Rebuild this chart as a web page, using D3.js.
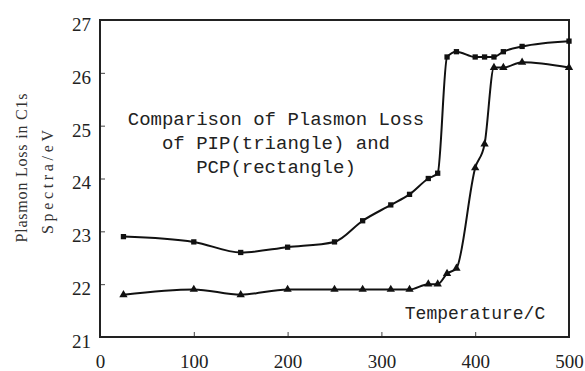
<!DOCTYPE html>
<html>
<head>
<meta charset="utf-8">
<script src="https://cdn.jsdelivr.net/npm/d3@7"></script>
<style>
  html, body { margin: 0; padding: 0; background: #fff; }
  svg { display: block; }
</style>
</head>
<body>
<svg id="chart" width="585" height="371"></svg>
<script>
// ---- data ----
const temperatures = [25, 100, 150, 200, 250, 280, 310, 330, 350, 360, 370, 380, 400, 410, 420, 430, 450, 500];
const pcpValues = [22.9, 22.8, 22.6, 22.7, 22.8, 23.2, 23.5, 23.7, 24.0, 24.1, 26.3, 26.4, 26.3, 26.3, 26.3, 26.4, 26.5, 26.6];
const pipValues = [21.8, 21.9, 21.8, 21.9, 21.9, 21.9, 21.9, 21.9, 22.0, 22.0, 22.2, 22.3, 24.2, 24.65, 26.1, 26.1, 26.2, 26.1];
const xTicks = [0, 100, 200, 300, 400, 500];
const yTicks = [21, 22, 23, 24, 25, 26, 27];
const titleLines = ["Comparison of Plasmon Loss", "of PIP(triangle) and", "PCP(rectangle)"];
const yLabelLines = ["Plasmon Loss in C1s", "Spectra/eV"];
const xLabel = "Temperature/C";

// ---- layout ----
const svg = d3.select("#chart");
const mLeft = 100, mRight = 569, mTop = 20, mBottom = 337;
const x = d3.scaleLinear().domain([0, 500]).range([mLeft, mRight]);
const y = d3.scaleLinear().domain([21, 27]).range([mBottom, mTop]);
const ink = "#111";
const serif = "'Liberation Serif', 'Times New Roman', serif";
const mono = "'Liberation Mono', 'Courier New', monospace";

// axes (ticks inward)
const xAxis = svg.append("g").attr("transform", `translate(0,${mBottom})`)
  .call(d3.axisBottom(x).tickValues(xTicks).tickSize(-5).tickPadding(14).tickFormat(d3.format("d")));
const yAxis = svg.append("g").attr("transform", `translate(${mLeft},0)`)
  .call(d3.axisLeft(y).tickValues(yTicks).tickSize(-5).tickPadding(9).tickFormat(d3.format("d")));
[xAxis, yAxis].forEach(g => {
  g.select(".domain").remove();
  g.selectAll(".tick line").attr("stroke", "#444").attr("stroke-width", 1);
  g.selectAll(".tick text").attr("fill", "#222").style("font-family", serif).style("font-size", "19px");
});
yAxis.selectAll(".tick text").attr("dy", "0.55em");
xAxis.selectAll(".tick text").attr("dy", "0.9em");

// frame
svg.append("rect").attr("x", mLeft).attr("y", mTop)
  .attr("width", mRight - mLeft).attr("height", mBottom - mTop)
  .attr("fill", "none").attr("stroke", "#222").attr("stroke-width", 2);

// lines
const pcp = temperatures.map((t, i) => [t, pcpValues[i]]);
const pip = temperatures.map((t, i) => [t, pipValues[i]]);
const line = d3.line().x(d => x(d[0])).y(d => y(d[1])).curve(d3.curveMonotoneX);
[pcp, pip].forEach(s => {
  svg.append("path").datum(s).attr("d", line)
    .attr("fill", "none").attr("stroke", ink).attr("stroke-width", 2);
});

// markers
svg.append("g").selectAll("path").data(pcp).join("path")
  .attr("d", d3.symbol().type(d3.symbolSquare).size(28))
  .attr("transform", d => `translate(${x(d[0])},${y(d[1])})`)
  .attr("fill", ink);
svg.append("g").selectAll("path").data(pip).join("path")
  .attr("d", d3.symbol().type(d3.symbolTriangle).size(30))
  .attr("transform", d => `translate(${x(d[0])},${y(d[1])})`)
  .attr("fill", ink);

// in-plot title
svg.append("g").selectAll("text").data(titleLines).join("text")
  .attr("x", 276).attr("y", (d, i) => 125 + i * 24)
  .attr("text-anchor", "middle")
  .style("font-family", mono).style("font-size", "19px").attr("fill", "#222")
  .text(d => d);

// x label
svg.append("text").attr("x", 475).attr("y", 319).attr("text-anchor", "middle")
  .style("font-family", mono).style("font-size", "18px").attr("fill", "#222")
  .text(xLabel);

// y label (two rotated lines)
const yl = [{ cx: 21, cy: 168, len: 149 }, { cx: 47, cy: 182, len: 104 }];
svg.append("g").selectAll("text").data(yLabelLines).join("text")
  .attr("transform", (d, i) => `translate(${yl[i].cx},${yl[i].cy}) rotate(-90)`)
  .attr("text-anchor", "middle").attr("dy", "0.35em")
  .attr("textLength", (d, i) => yl[i].len).attr("lengthAdjust", "spacing")
  .style("font-family", serif).style("font-size", "16px").attr("fill", "#333")
  .text(d => d);
</script>
</body>
</html>
